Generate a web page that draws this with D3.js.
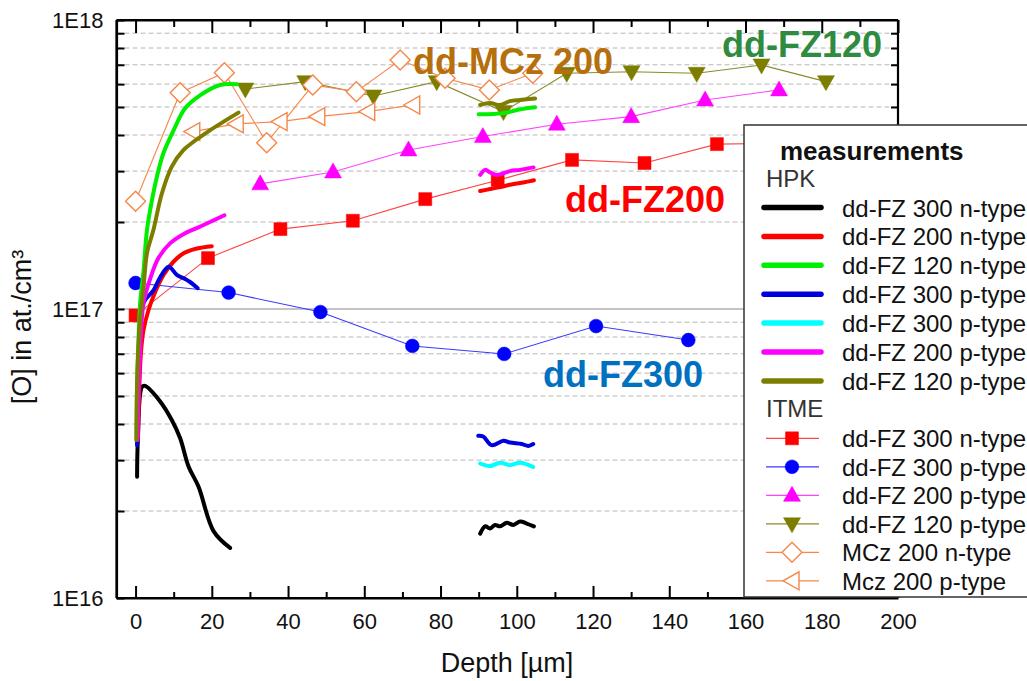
<!DOCTYPE html>
<html>
<head>
<meta charset="utf-8">
<script src="https://cdn.jsdelivr.net/npm/d3@7"></script>
<style>
  html, body { margin: 0; padding: 0; background: #fff; }
  svg { display: block; font-family: "Liberation Sans", Arial, sans-serif; }
</style>
</head>
<body>
<svg id="chart" width="1027" height="681"></svg>
<script>
// ---------------- DATA ----------------
const xTickValues = [0, 20, 40, 60, 80, 100, 120, 140, 160, 180, 200];
const yTickValues = [1e16, 1e17, 1e18];
const yTickLabels = ["1E16", "1E17", "1E18"];

// HPK measurements (thick lines), each series = list of segments of [depth, conc]
const hpkFZ300n = [
  [[0.4,2.63e16],[0.6,3.52e16],[1.7,5.38e16],[2.5,5.42e16],[6.5,4.78e16],[9.5,4.13e16],[11.7,3.57e16],[13.9,2.85e16],[16.5,2.43e16],[20.5,1.70e16],[24.8,1.49e16]],
  [[90.4,1.67e16],[91.7,1.77e16],[93.0,1.74e16],[94.3,1.79e16],[95.6,1.77e16],[97.4,1.82e16],[99.1,1.79e16],[100.9,1.84e16],[102.6,1.81e16],[104.5,1.77e16]]
];
const hpkFZ200n = [
  [[0.6,3.52e16],[1.4,7.03e16],[2.1,8.46e16],[3.4,9.92e16],[5.2,1.15e17],[7.3,1.31e17],[10.0,1.46e17],[12.6,1.56e17],[16.1,1.62e17],[20.0,1.65e17]],
  [[90.4,2.56e17],[93.0,2.60e17],[95.6,2.64e17],[98.2,2.69e17],[100.9,2.73e17],[103.5,2.77e17],[104.5,2.79e17]]
];
const hpkFZ120n = [
  [[0.3,3.52e16],[0.4,5.38e16],[0.8,8.02e16],[1.2,1.05e17],[2.1,1.36e17],[3.0,1.88e17],[4.3,2.38e17],[5.6,2.87e17],[7.3,3.46e17],[10.0,4.16e17],[13.0,4.95e17],[17.0,5.50e17],[22.2,5.96e17],[26.6,5.99e17]],
  [[90.0,4.72e17],[93.9,4.73e17],[97.4,4.78e17],[100.0,4.88e17],[102.6,4.95e17],[104.8,4.99e17]]
];
const hpkFZ300p = [
  [[0.4,3.38e16],[0.8,6.66e16],[2.1,1.05e17],[4.7,1.16e17],[6.5,1.29e17],[8.7,1.40e17],[10.9,1.31e17],[13.0,1.27e17],[14.3,1.24e17],[16.3,1.18e17]],
  [[89.9,3.64e16],[91.2,3.62e16],[93.4,3.38e16],[96.5,3.50e16],[98.2,3.45e16],[101.3,3.41e16],[103.0,3.36e16],[104.3,3.41e16]]
];
const hpkFZ300p2 = [
  [[90.4,2.92e16],[93.0,2.86e16],[95.6,2.94e16],[98.2,2.88e16],[100.9,2.94e16],[104.3,2.84e16]]
];
const hpkFZ200p = [
  [[0.5,3.52e16],[1.1,6.66e16],[2.1,1.05e17],[3.9,1.28e17],[6.0,1.50e17],[9.1,1.69e17],[13.0,1.83e17],[17.0,1.93e17],[23.3,2.11e17]],
  [[90.4,2.91e17],[91.7,3.03e17],[93.0,2.97e17],[94.8,2.91e17],[98.2,3.00e17],[100.9,3.03e17],[104.4,3.09e17]]
];
const hpkFZ120p = [
  [[0.2,3.52e16],[0.5,6.15e16],[1.2,9.16e16],[2.1,1.19e17],[3.0,1.56e17],[4.7,1.88e17],[6.9,2.51e17],[9.5,3.11e17],[12.6,3.55e17],[15.2,3.79e17],[19.6,4.16e17],[23.1,4.45e17],[27.0,4.78e17]],
  [[90.4,5.08e17],[93.0,5.16e17],[95.6,5.08e17],[98.2,5.24e17],[100.9,5.29e17],[104.8,5.35e17]]
];

// ITME measurements (thin lines + markers)
const itmeFZ300nDepth = [0, 19, 38, 57, 76, 95, 114.5, 133.5, 152.5, 171];
const itmeFZ300nConc  = [9.5e16, 1.50e17, 1.89e17, 2.02e17, 2.40e17, 2.79e17, 3.28e17, 3.20e17, 3.72e17, 3.75e17];
const itmeFZ300pDepth = [0, 24.4, 48.5, 72.6, 96.7, 120.8, 145];
const itmeFZ300pConc  = [1.23e17, 1.14e17, 9.76e16, 7.45e16, 6.99e16, 8.73e16, 7.81e16];
const itmeFZ200pDepth = [32.7, 51.8, 71.6, 91.1, 110.5, 130, 149.4, 168.8];
const itmeFZ200pConc  = [2.71e17, 2.98e17, 3.55e17, 3.95e17, 4.36e17, 4.63e17, 5.29e17, 5.73e17];
const itmeFZ120pDepth = [28.8, 44.5, 62.4, 79, 96.5, 113.1, 130.1, 147.2, 164.2, 181.1];
const itmeFZ120pConc  = [5.77e17, 6.12e17, 5.46e17, 6.12e17, 4.82e17, 6.54e17, 6.62e17, 6.54e17, 6.99e17, 6.12e17];
const itmeMCz200nDepth = [0, 11.7, 23.3, 34.4, 46.5, 57.9, 69.4, 81.2, 92.8, 104.2];
const itmeMCz200nConc  = [2.36e17, 5.6e17, 6.57e17, 3.76e17, 5.96e17, 5.65e17, 7.27e17, 6.29e17, 5.73e17, 6.54e17];
const itmeMCz200pDepth = [15, 26.4, 37.9, 47.8, 60.9, 72.7];
const itmeMCz200pConc  = [4.11e17, 4.37e17, 4.45e17, 4.63e17, 4.82e17, 5.08e17];

const hpkNames = ["dd-FZ 300 n-type","dd-FZ 200 n-type","dd-FZ 120 n-type","dd-FZ 300 p-type","dd-FZ 300 p-type","dd-FZ 200 p-type","dd-FZ 120 p-type"];
const itmeNames = ["dd-FZ 300 n-type","dd-FZ 300 p-type","dd-FZ 200 p-type","dd-FZ 120 p-type","MCz 200 n-type","Mcz 200 p-type"];
const annotations = ["dd-MCz 200", "dd-FZ120", "dd-FZ200", "dd-FZ300"];

// ---------------- STYLE / LAYOUT ----------------
const svg = d3.select("#chart");
const L = 116.5, R = 898, T = 20, B = 598;
const x = d3.scaleLinear().domain([-5, 200]).range([L, R]);
const y = d3.scaleLog().domain([1e16, 1e18]).range([B, T]);

const hpkSeries = [
  {data: hpkFZ300n, color: "#000000"},
  {data: hpkFZ200n, color: "#ff0000"},
  {data: hpkFZ120n, color: "#00ee00"},
  {data: hpkFZ300p, color: "#0000dd"},
  {data: hpkFZ300p2, color: "#00ffff"},
  {data: hpkFZ200p, color: "#ff00ff"},
  {data: hpkFZ120p, color: "#7d7d00"}
];
const itmeSeries = [
  {depth: itmeFZ300nDepth, conc: itmeFZ300nConc, color: "#ff0000", line: "#ff4444", sym: "square", fill: true},
  {depth: itmeFZ300pDepth, conc: itmeFZ300pConc, color: "#0000ff", line: "#3a3aff", sym: "circle", fill: true},
  {depth: itmeFZ200pDepth, conc: itmeFZ200pConc, color: "#ff00ff", line: "#ff44ff", sym: "up", fill: true},
  {depth: itmeFZ120pDepth, conc: itmeFZ120pConc, color: "#7d7d00", line: "#8a8a2a", sym: "down", fill: true},
  {depth: itmeMCz200nDepth, conc: itmeMCz200nConc, color: "#f5874a", line: "#f5874a", sym: "diamond", fill: false},
  {depth: itmeMCz200pDepth, conc: itmeMCz200pConc, color: "#f5874a", line: "#f5874a", sym: "left", fill: false}
];

function markerPath(sym) {
  switch (sym) {
    case "square": return "M-6.5,-6.5H6.5V6.5H-6.5Z";
    case "circle": return d3.symbol(d3.symbolCircle, 150)();
    case "up": return "M0,-9L8.5,6L-8.5,6Z";
    case "down": return "M0,9L8.5,-6L-8.5,-6Z";
    case "diamond": return "M0,-10L10,0L0,10L-10,0Z";
    case "left": return "M-9,0L7,-9L7,9Z";
  }
}

// grid lines
const minorY = [];
[1e16, 1e17].forEach(dec => { for (let k = 2; k <= 9; k++) minorY.push(k * dec); });
const grid = svg.append("g");
grid.selectAll("line.minor").data(minorY).join("line")
  .attr("x1", L).attr("x2", R)
  .attr("y1", d => y(d)).attr("y2", d => y(d))
  .attr("stroke", "#b8b8b8").attr("stroke-width", 1).attr("stroke-dasharray", "5,3");
grid.append("line").attr("x1", L).attr("x2", R).attr("y1", y(1e17)).attr("y2", y(1e17))
  .attr("stroke", "#8a8a8a").attr("stroke-width", 1.2);

// ITME series
const itmeG = svg.append("g");
itmeSeries.forEach(s => {
  const pts = s.depth.map((d, i) => [d, s.conc[i]]);
  itmeG.append("path").datum(pts)
    .attr("d", d3.line().x(d => x(d[0])).y(d => y(d[1])))
    .attr("fill", "none").attr("stroke", s.line).attr("stroke-width", 1.1);
  itmeG.selectAll(null).data(pts).join("path")
    .attr("transform", d => `translate(${x(d[0])},${y(d[1])})`)
    .attr("d", markerPath(s.sym))
    .attr("fill", s.fill ? s.color : "#ffffff")
    .attr("stroke", s.color).attr("stroke-width", s.fill ? 0.5 : 1.4);
});

// HPK series
const hpkG = svg.append("g");
const hpkLine = d3.line().x(d => x(d[0])).y(d => y(d[1])).curve(d3.curveCatmullRom.alpha(0.5));
hpkSeries.forEach(s => {
  s.data.forEach(seg => {
    hpkG.append("path").datum(seg).attr("d", hpkLine)
      .attr("fill", "none").attr("stroke", s.color).attr("stroke-width", 4)
      .attr("stroke-linejoin", "round").attr("stroke-linecap", "round");
  });
});

// axes
const axG = svg.append("g");
const xMinor = d3.range(10, 200, 20);
const axBottom = axG.append("g").attr("transform", `translate(0,${B})`)
  .call(d3.axisBottom(x).tickValues(xTickValues).tickSize(-12).tickPadding(15).tickSizeOuter(0));
axBottom.append("g").call(d3.axisBottom(x).tickValues(xMinor).tickSize(-6).tickFormat("").tickSizeOuter(0));
const axTop = axG.append("g").attr("transform", `translate(0,${T})`)
  .call(d3.axisTop(x).tickValues(xTickValues).tickSize(-13).tickFormat("").tickSizeOuter(0));
axTop.append("g").call(d3.axisTop(x).tickValues(xMinor).tickSize(-7).tickFormat("").tickSizeOuter(0));
const axLeft = axG.append("g").attr("transform", `translate(${L},0)`)
  .call(d3.axisLeft(y).tickValues(yTickValues).tickFormat((d, i) => yTickLabels[i]).tickSize(-8).tickPadding(13).tickSizeOuter(0));
axLeft.append("g").call(d3.axisLeft(y).tickValues(minorY).tickSize(-8).tickFormat("").tickSizeOuter(0));
const axRight = axG.append("g").attr("transform", `translate(${R},0)`)
  .call(d3.axisRight(y).tickValues(minorY).tickSize(-7).tickFormat("").tickSizeOuter(0));

axG.selectAll(".domain").attr("stroke", "#000").attr("stroke-width", 2.2);
axG.selectAll(".tick line").attr("stroke", "#000").attr("stroke-width", 2);
axG.selectAll(".tick text").attr("font-size", 22).attr("fill", "#111")
  .attr("font-family", "'Liberation Sans', Arial, sans-serif");
[axBottom, axTop].forEach(g => g.select(".domain").attr("d", `M${L},0H${R}`));
[axLeft, axRight].forEach(g => g.select(".domain").attr("d", `M0,${B}V${T}`));

// axis titles
svg.append("text").attr("x", 507).attr("y", 672).attr("text-anchor", "middle")
  .attr("font-size", 27).attr("fill", "#111").text("Depth [µm]");
svg.append("text").attr("transform", "translate(31,327) rotate(-90)").attr("text-anchor", "middle")
  .attr("font-size", 27).attr("fill", "#111").text("[O] in at./cm³");

// annotations
const annG = svg.append("g").attr("font-weight", "bold").attr("font-size", 36);
const annPos = [
  {x: 413, y: 74, color: "#b56f0c"},
  {x: 722, y: 57, color: "#2e8b3f"},
  {x: 565, y: 212, color: "#ff0000"},
  {x: 543, y: 387, color: "#0070c0"}
];
annotations.forEach((t, i) => {
  annG.append("text").attr("x", annPos[i].x).attr("y", annPos[i].y)
    .attr("fill", annPos[i].color).text(t);
});

// legend
const lg = svg.append("g");
lg.append("rect").attr("x", 744).attr("y", 125).attr("width", 300).attr("height", 472)
  .attr("fill", "#fff").attr("stroke", "#333").attr("stroke-width", 1.5);
lg.append("text").attr("x", 780).attr("y", 160).attr("font-size", 26).attr("font-weight", "bold")
  .attr("fill", "#111").text("measurements");
lg.append("text").attr("x", 766).attr("y", 187).attr("font-size", 24).attr("fill", "#333").text("HPK");
hpkNames.forEach((n, i) => {
  const yy = 207.5 + i * 28.9;
  lg.append("line").attr("x1", 764).attr("x2", 821).attr("y1", yy).attr("y2", yy)
    .attr("stroke", hpkSeries[i].color).attr("stroke-width", 5.5).attr("stroke-linecap", "round");
  lg.append("text").attr("x", 842).attr("y", yy + 9).attr("font-size", 24).attr("fill", "#111").text(n);
});
lg.append("text").attr("x", 766).attr("y", 417).attr("font-size", 24).attr("fill", "#333").text("ITME");
itmeNames.forEach((n, i) => {
  const yy = 438.3 + i * 28.5;
  const s = itmeSeries[i];
  lg.append("line").attr("x1", 766).attr("x2", 819).attr("y1", yy).attr("y2", yy)
    .attr("stroke", s.line).attr("stroke-width", 1.2);
  lg.append("path").attr("transform", `translate(792,${yy})`).attr("d", markerPath(s.sym))
    .attr("fill", s.fill ? s.color : "#fff").attr("stroke", s.color).attr("stroke-width", s.fill ? 0.5 : 1.4);
  lg.append("text").attr("x", 842).attr("y", yy + 9).attr("font-size", 24).attr("fill", "#111").text(n);
});
</script>
</body>
</html>
